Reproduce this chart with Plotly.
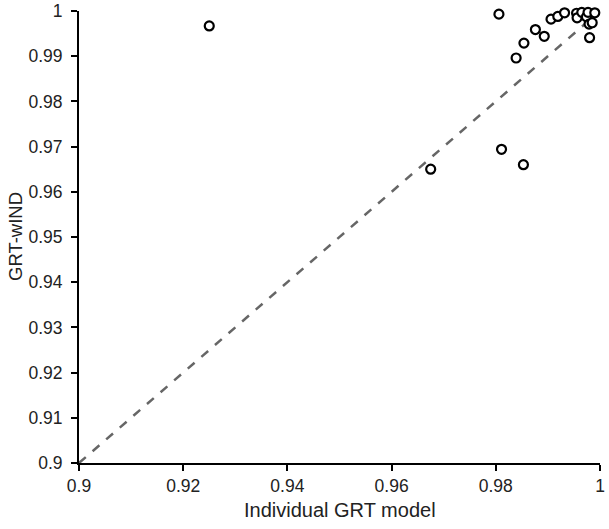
import plotly.graph_objects as go

# Data
individual_grt = [0.9250, 0.9675, 0.9811, 0.9853, 0.9806, 0.9839, 0.9854, 0.9876, 0.9893,
                  0.9906, 0.9919, 0.9932, 0.9955, 0.9956, 0.9965, 0.9974, 0.9977,
                  0.9979, 0.9985, 0.9990, 0.9980]
grt_wind = [0.9967, 0.9650, 0.9694, 0.9660, 0.9993, 0.9896, 0.9929, 0.9959, 0.9944,
            0.9982, 0.9988, 0.9996, 0.9995, 0.9985, 0.9997, 0.9987, 0.9997,
            0.9971, 0.9974, 0.9996, 0.9941]

identity = [0.9, 1.0]

x_ticks = [0.9, 0.92, 0.94, 0.96, 0.98, 1.0]
x_tick_labels = ["0.9", "0.92", "0.94", "0.96", "0.98", "1"]
y_ticks = [0.9, 0.91, 0.92, 0.93, 0.94, 0.95, 0.96, 0.97, 0.98, 0.99, 1.0]
y_tick_labels = ["0.9", "0.91", "0.92", "0.93", "0.94", "0.95", "0.96", "0.97", "0.98", "0.99", "1"]

FONT = "Liberation Sans, Arial, sans-serif"

fig = go.Figure()
fig.add_trace(go.Scatter(
    x=identity, y=identity, mode="lines",
    line=dict(color="#666666", width=2.5, dash="dash"),
    hoverinfo="skip", showlegend=False, cliponaxis=False,
))
fig.add_trace(go.Scatter(
    x=individual_grt, y=grt_wind, mode="markers",
    marker=dict(symbol="circle", size=9, color="white",
                line=dict(color="black", width=2.2)),
    showlegend=False, cliponaxis=False,
))

axis_common = dict(
    showline=True, linecolor="black", linewidth=2,
    ticks="outside", ticklen=6, tickwidth=2, tickcolor="black",
    showgrid=False, zeroline=False, automargin=False,
    tickfont=dict(family=FONT, size=17.5, color="#222222"),
)

fig.update_layout(
    width=609, height=529,
    margin=dict(l=79, r=9, t=11, b=66),
    paper_bgcolor="white", plot_bgcolor="white",
    hovermode=False,
    xaxis=dict(range=[0.9, 1.0], tickvals=x_ticks, ticktext=x_tick_labels,
               ticklabelstandoff=0, **axis_common),
    yaxis=dict(range=[0.9, 1.0], tickvals=y_ticks, ticktext=y_tick_labels,
               ticklabelstandoff=5, **axis_common),
    annotations=[
        dict(text="Individual GRT model", xref="paper", yref="paper",
             x=0.5, y=0, yshift=-47, xanchor="center", yanchor="middle",
             showarrow=False, font=dict(family=FONT, size=20, color="#222222")),
        dict(text="GRT-wIND", xref="paper", yref="paper",
             x=0, y=0.5, xshift=-64, xanchor="center", yanchor="middle",
             textangle=-90, showarrow=False,
             font=dict(family=FONT, size=18.5, color="#222222")),
    ],
)

fig.write_html("out.html", config={"displayModeBar": False, "staticPlot": True},
               post_script="document.body.style.margin='0px';")
